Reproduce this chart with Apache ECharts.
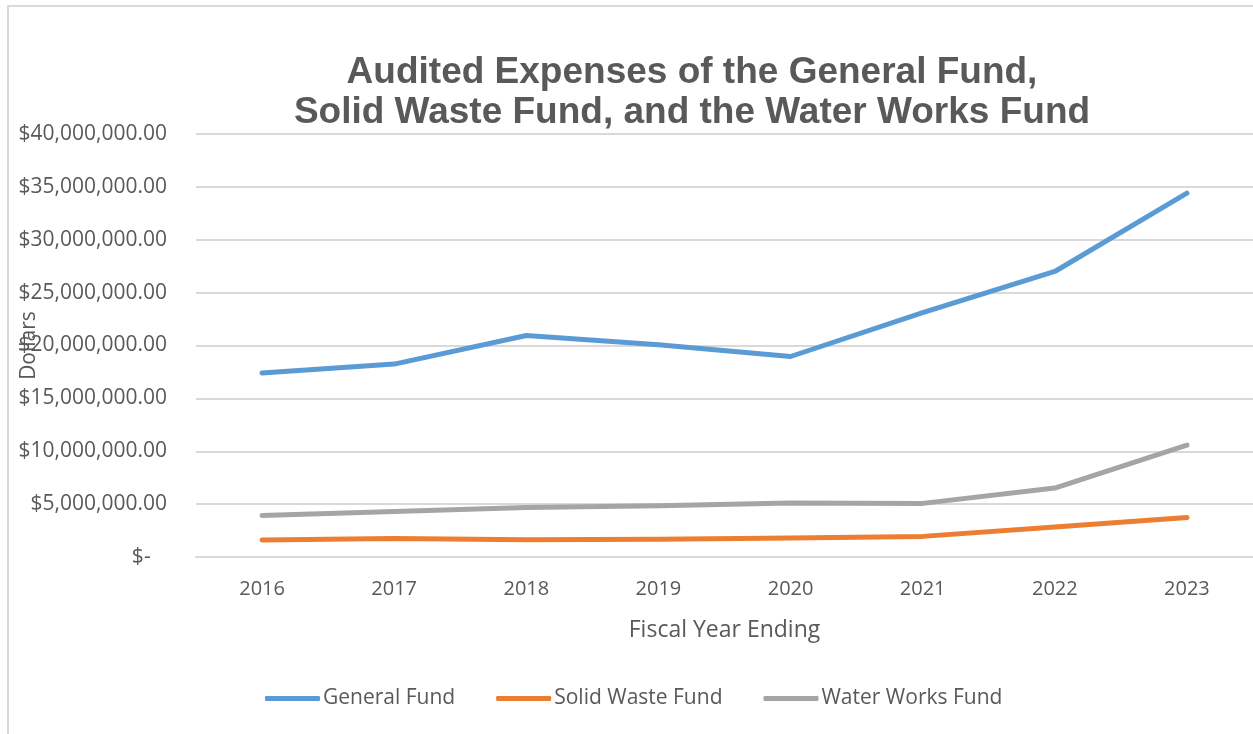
<!DOCTYPE html>
<html lang="en">
<head>
    <meta charset="UTF-8">
    <title>Audited Expenses</title>
    <script src="https://cdn.jsdelivr.net/npm/echarts@6/dist/echarts.min.js"></script>
    <style>
        html, body { margin: 0; padding: 0; background: #fff; overflow: hidden; }
        #frame { position: absolute; left: 7px; top: 5px; width: 1400px; height: 900px; border: 2px solid #d9d9d9; box-sizing: border-box; }
        #main { position: absolute; left: 0; top: 0; width: 1253px; height: 734px; }
    </style>
</head>
<body>
<div id="frame"></div>
<div id="main"></div>
<script type="text/javascript">
    // data
    var years = ['2016', '2017', '2018', '2019', '2020', '2021', '2022', '2023'];
    var generalFund = [17390000, 18240000, 20950000, 20070000, 18960000, 23120000, 27000000, 34400000];
    var solidWasteFund = [1600000, 1760000, 1640000, 1670000, 1800000, 1950000, 2840000, 3740000];
    var waterWorksFund = [3930000, 4310000, 4690000, 4850000, 5100000, 5070000, 6520000, 10580000];
    var seriesNames = ['General Fund', 'Solid Waste Fund', 'Water Works Fund'];
    var colors = ['#5b9bd5', '#ed7d31', '#a5a5a5'];

    var labelFont = 'Open Sans';
    var txt = '#595959';

    function money(v) {
        if (v === 0) return '$-   ';
        return '$' + v.toLocaleString('en-US', {minimumFractionDigits: 2, maximumFractionDigits: 2});
    }

    function line(name, data, color) {
        return {
            name: name,
            type: 'line',
            data: data,
            symbol: 'none',
            lineStyle: {width: 5, color: color, cap: 'round', join: 'round'},
            itemStyle: {color: color}
        };
    }

    var myChart = echarts.init(document.getElementById('main'));
    var option = {
        animation: false,
        title: {
            text: 'Audited Expenses of the General Fund,\nSolid Waste Fund, and the Water Works Fund',
            left: 687,
            top: 48,
            textAlign: 'center',
            textStyle: {
                fontFamily: 'Liberation Sans',
                fontWeight: 'bold',
                fontSize: 37,
                lineHeight: 40,
                color: txt
            }
        },
        legend: {
            bottom: 20,
            left: 260,
            itemWidth: 55,
            itemHeight: 5,
            itemGap: 41,
            icon: 'roundRect',
            textStyle: {fontFamily: labelFont, fontSize: 21, color: txt, padding: [0, 0, 0, -2]},
            data: seriesNames
        },
        grid: {left: 196, right: 0, top: 134, bottom: 177, outerBoundsMode: 'none'},
        xAxis: {
            type: 'category',
            data: years,
            boundaryGap: true,
            name: 'Fiscal Year Ending',
            nameLocation: 'middle',
            nameGap: 62,
            nameTextStyle: {fontFamily: labelFont, fontSize: 23, color: txt},
            axisLine: {lineStyle: {color: '#d9d9d9', width: 2}},
            axisTick: {show: false},
            axisLabel: {fontFamily: labelFont, fontSize: 20, color: txt, margin: 22}
        },
        yAxis: {
            type: 'value',
            min: 0,
            max: 40000000,
            interval: 5000000,
            name: 'Dollars',
            nameLocation: 'middle',
            nameGap: 156,
            nameMoveOverlap: false,
            nameTextStyle: {fontFamily: labelFont, fontSize: 21, color: txt},
            axisLine: {show: false},
            axisTick: {show: false},
            splitLine: {lineStyle: {color: '#d9d9d9', width: 2}},
            axisLabel: {
                fontFamily: labelFont,
                fontSize: 21,
                color: txt,
                margin: 29,
                formatter: money
            }
        },
        series: [
            line(seriesNames[0], generalFund, colors[0]),
            line(seriesNames[1], solidWasteFund, colors[1]),
            line(seriesNames[2], waterWorksFund, colors[2])
        ]
    };
    myChart.setOption(option);
</script>
</body>
</html>
